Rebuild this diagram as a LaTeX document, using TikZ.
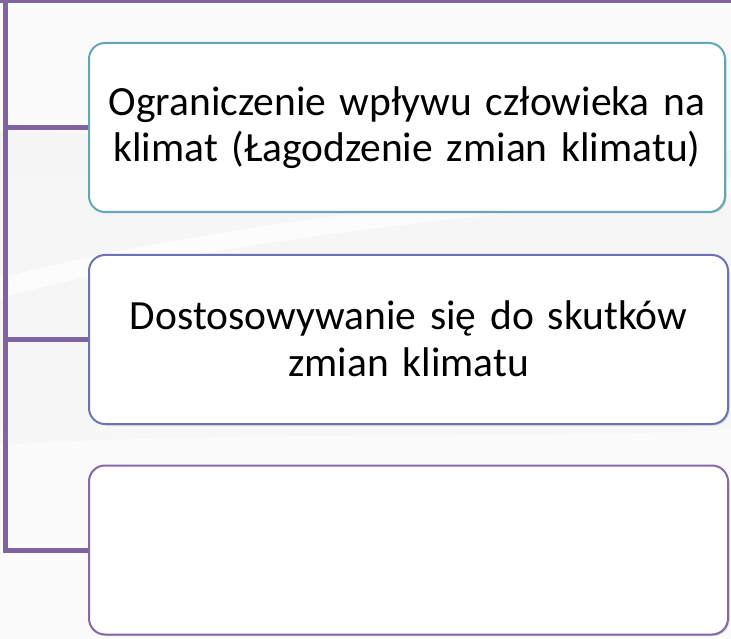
\documentclass[tikz,border=0pt]{standalone}
\usepackage{fontspec}
\setmainfont{Carlito}
\usetikzlibrary{shadows}
\definecolor{trunkc}{HTML}{8064A2}
\definecolor{tealc}{HTML}{62A6B8}
\definecolor{bluec}{HTML}{6E72B5}
\definecolor{purpc}{HTML}{8468A8}
\pgfdeclarelayer{back}
\pgfdeclarelayer{mid}
\pgfsetlayers{back,mid,main}
\begin{document}
\begin{tikzpicture}[x=1pt,y=-1pt,
  boxstyle/.style={draw, line width=2pt, rounded corners=16pt, fill=white,
    minimum height=169pt, inner sep=0pt, align=center,
    font=\fontsize{41.5}{46.5}\selectfont, text width=630pt,
    drop shadow={shadow xshift=1.5pt, shadow yshift=-1.5pt, opacity=0.25, fill=black!60}},
  trunk/.style={draw=trunkc, line width=5pt},
  topline/.style={draw=trunkc, line width=3pt},
]
\useasboundingbox (0,0) rectangle (731,639);
\begin{pgfonlayer}{back}
  \shade[top color=black!4, middle color=black!12, bottom color=black!3] (0,0) rectangle (731,639);
  \fill[white, opacity=0.75] (0,278) .. controls (150,240) and (350,205) .. (731,178)
     -- (731,194) .. controls (350,222) and (150,258) .. (0,298) -- cycle;
  \fill[white, opacity=0.5] (0,130) .. controls (250,140) and (500,160) .. (731,150)
     -- (731,0) -- (0,0) -- cycle;
  \fill[white, opacity=0.5] (0,445) .. controls (250,430) and (500,440) .. (731,430)
     -- (731,639) -- (0,639) -- cycle;
\end{pgfonlayer}

\node[boxstyle, draw=tealc, minimum width=636pt] (b1) at (407,127.5)
  {Ograniczenie wpływu człowieka na\\klimat (Łagodzenie zmian klimatu)};
\node[boxstyle, draw=bluec, minimum width=639pt, text depth=48pt] (b2) at (408.5,339.5)
  {Dostosowywanie się do skutków\\zmian klimatu};
\node[boxstyle, draw=purpc, minimum width=639pt] (b3) at (408.5,550) {};

\coordinate (top) at (5.5,0);
\coordinate (tl) at (0,1.5);
\coordinate (tr) at (731,1.5);
\begin{pgfonlayer}{mid}
  \draw[topline] (tl) -- (tr);
  \draw[trunk] (top) |- (b3.west);
  \draw[trunk] (b1.west -| top) -- (b1.west);
  \draw[trunk] (b2.west -| top) -- (b2.west);
\end{pgfonlayer}
\end{tikzpicture}
\end{document}
